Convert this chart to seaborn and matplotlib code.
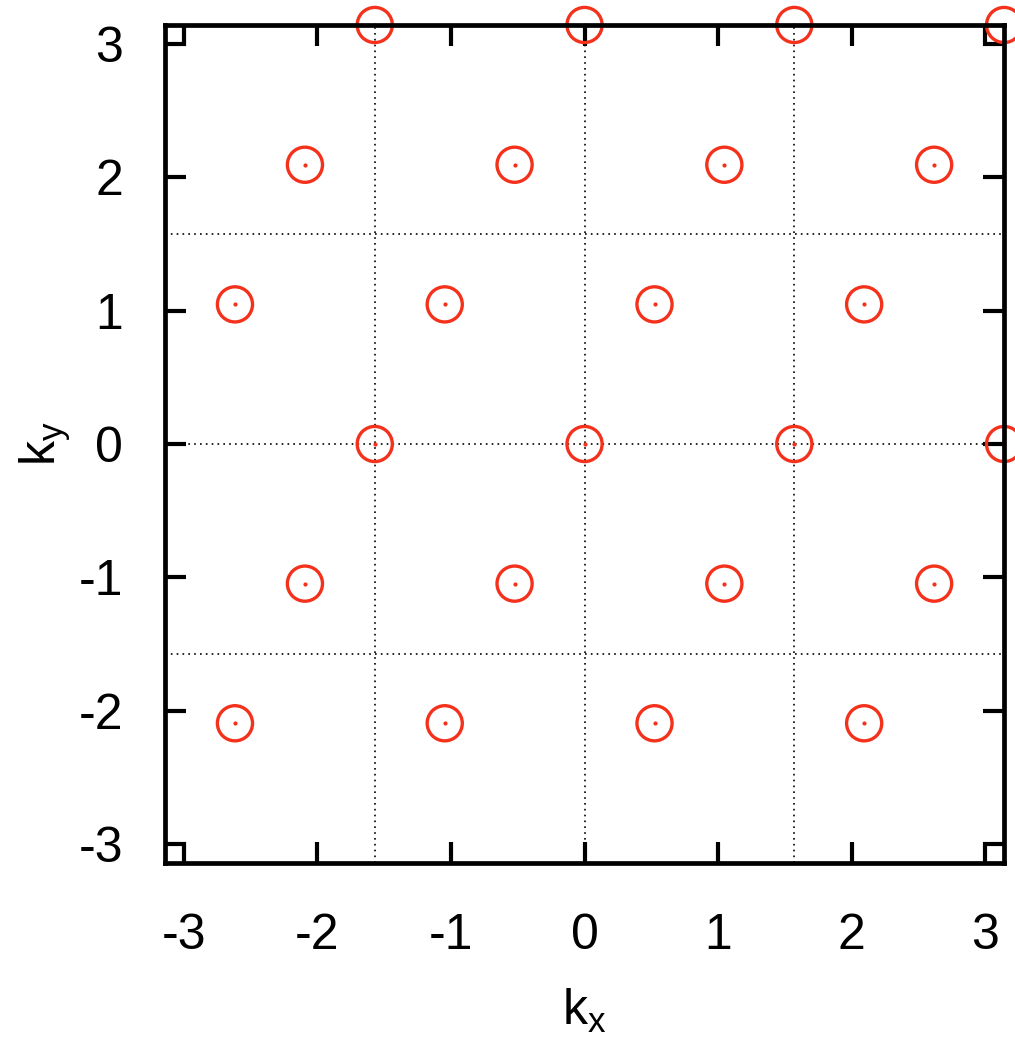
import numpy as np
import seaborn as sns
import matplotlib.pyplot as plt
import pandas as pd

# lattice points (k_x, k_y)
kx = [-1.571, 0.0, 1.571, 3.142,
      -2.094, -0.524, 1.047, 2.618,
      -2.618, -1.047, 0.524, 2.094,
      -1.571, 0.0, 1.571, 3.142,
      -2.094, -0.524, 1.047, 2.618,
      -2.618, -1.047, 0.524, 2.094]
ky = [3.142, 3.142, 3.142, 3.142,
      2.094, 2.094, 2.094, 2.094,
      1.047, 1.047, 1.047, 1.047,
      0.0, 0.0, 0.0, 0.0,
      -1.047, -1.047, -1.047, -1.047,
      -2.094, -2.094, -2.094, -2.094]
grid_x = [-1.571, 0.0, 1.571]
grid_y = [-1.571, 0.0, 1.571]
ticks = [-3, -2, -1, 0, 1, 2, 3]

df = pd.DataFrame({'kx': kx, 'ky': ky})
red = '#f4321c'

sns.set_style('white')
plt.rcParams['font.family'] = ['Liberation Sans', 'DejaVu Sans']
plt.rcParams['mathtext.default'] = 'regular'
plt.rcParams['text.color'] = 'black'
plt.rcParams['axes.labelcolor'] = 'black'
plt.rcParams['xtick.color'] = 'black'
plt.rcParams['ytick.color'] = 'black'

fig = plt.figure(figsize=(10.15, 10.43), dpi=100)
ax = fig.add_axes([0.1626, 0.1726, 0.9892 - 0.1626, 0.976 - 0.1726])

for gx in grid_x:
    ax.axvline(gx, color='black', lw=1.2, ls=(0, (1, 2.5)), zorder=1)
for gy in grid_y:
    ax.axhline(gy, color='black', lw=1.2, ls=(0, (1, 2.5)), zorder=1)

sns.scatterplot(data=df, x='kx', y='ky', marker='o', s=640, fc='none', ec=red,
                linewidth=2.4, clip_on=False, zorder=5, ax=ax)
sns.scatterplot(data=df, x='kx', y='ky', marker='o', s=9, color=red,
                linewidth=0, clip_on=False, zorder=6, ax=ax)

ax.set_xlim(-np.pi, np.pi)
ax.set_ylim(-np.pi, np.pi)
ax.set_xticks(ticks)
ax.set_yticks(ticks)
ax.set_xticklabels([str(t) for t in ticks])
ax.set_yticklabels([str(t) for t in ticks])
ax.tick_params(direction='in', length=15, width=3, labelsize=36,
               top=True, right=True, bottom=True, left=True,
               color='black', labelcolor='black')
ax.tick_params(axis='x', pad=36)
ax.tick_params(axis='y', pad=30)
for sp in ax.spines.values():
    sp.set_linewidth(3.4)
    sp.set_color('black')
    sp.set_zorder(10)

ax.set_xlabel('$k_x$', fontsize=36, labelpad=20, color='black')
ax.set_ylabel('$k_y$', fontsize=36, labelpad=4, color='black')

plt.savefig('out.png', dpi=100)
